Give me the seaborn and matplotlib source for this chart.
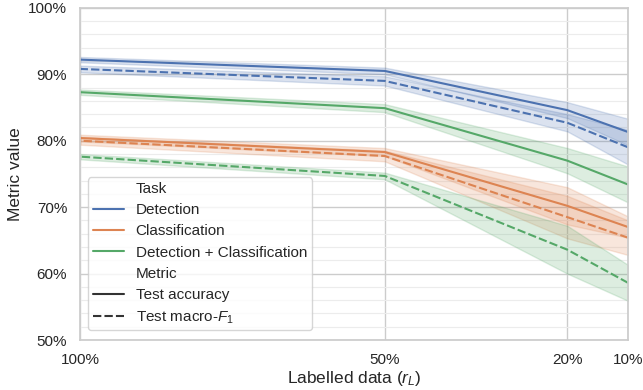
import numpy as np
import pandas as pd
import seaborn as sns
import matplotlib
matplotlib.use("Agg")
import matplotlib.pyplot as plt
from matplotlib.ticker import FuncFormatter, MultipleLocator

# Labelled data fraction (%)
r_L = [100, 50, 20, 10]
tasks = ["Detection", "Classification", "Detection + Classification"]
metrics = ["Test accuracy", "Test macro-$F_1$"]

# mean values (%)
det_acc = [92.2, 90.5, 84.6, 81.3]
det_f1 = [90.8, 89.0, 82.7, 79.0]
cls_acc = [80.4, 78.3, 70.2, 67.0]
cls_f1 = [80.0, 77.7, 68.5, 65.4]
dc_acc = [87.3, 84.9, 77.0, 73.4]
dc_f1 = [77.6, 74.7, 63.6, 58.6]

# band half-widths (%)
det_acc_hw = [0.4, 0.5, 1.2, 2.0]
det_f1_hw = [0.5, 0.7, 1.3, 2.6]
cls_acc_hw = [0.5, 0.6, 2.8, 1.6]
cls_f1_hw = [0.6, 0.8, 3.2, 2.6]
dc_acc_hw = [0.4, 0.6, 1.9, 2.7]
dc_f1_hw = [0.4, 0.5, 3.6, 2.7]

series = [
    ("Detection", metrics[0], det_acc, det_acc_hw),
    ("Detection", metrics[1], det_f1, det_f1_hw),
    ("Classification", metrics[0], cls_acc, cls_acc_hw),
    ("Classification", metrics[1], cls_f1, cls_f1_hw),
    ("Detection + Classification", metrics[0], dc_acc, dc_acc_hw),
    ("Detection + Classification", metrics[1], dc_f1, dc_f1_hw),
]

rows = []
for task, metric, vals, hws in series:
    for x, v, h in zip(r_L, vals, hws):
        for s in (-1, 1):
            rows.append({"r": x, "value": v + s * h, "Task": task, "Metric": metric})
df = pd.DataFrame(rows)

sns.set_theme(style="whitegrid", palette="deep")
plt.rcParams["font.family"] = ["Liberation Sans", "DejaVu Sans"]
plt.rcParams["mathtext.fontset"] = "custom"
plt.rcParams["mathtext.rm"] = "Liberation Sans"
plt.rcParams["mathtext.it"] = "Liberation Sans:italic"

fig, ax = plt.subplots(figsize=(6.43, 3.9), dpi=100)

sns.lineplot(data=df, x="r", y="value", hue="Task", style="Metric",
             hue_order=tasks, style_order=metrics,
             errorbar=("pi", 100), ax=ax)

ax.set_xlim(100, 10)
ax.set_ylim(50, 100)
ax.set_xticks(r_L)
ax.xaxis.set_major_formatter(FuncFormatter(lambda v, p: f"{v:.0f}%"))
ax.yaxis.set_major_locator(MultipleLocator(10))
ax.yaxis.set_minor_locator(MultipleLocator(2))
ax.yaxis.set_major_formatter(FuncFormatter(lambda v, p: f"{v:.0f}%"))
ax.grid(which="minor", axis="y", color="#ececec", linewidth=0.8)
ax.grid(which="major", color="#cccccc", linewidth=1.0)
ax.set_axisbelow(True)
ax.tick_params(labelsize=11)
ax.tick_params(axis="x", pad=3)
ax.set_xlabel("Labelled data ($r_L$)", fontsize=12.5, labelpad=2)
ax.set_ylabel("Metric value", fontsize=12.5)

leg = ax.legend(loc="lower left", bbox_to_anchor=(0.0146, 0.03),
                borderaxespad=0, labelspacing=0.47, borderpad=0.3, fontsize=11)

fig.subplots_adjust(left=0.125, right=0.977, top=0.98, bottom=0.128)
fig.savefig("out.png", dpi=100)
